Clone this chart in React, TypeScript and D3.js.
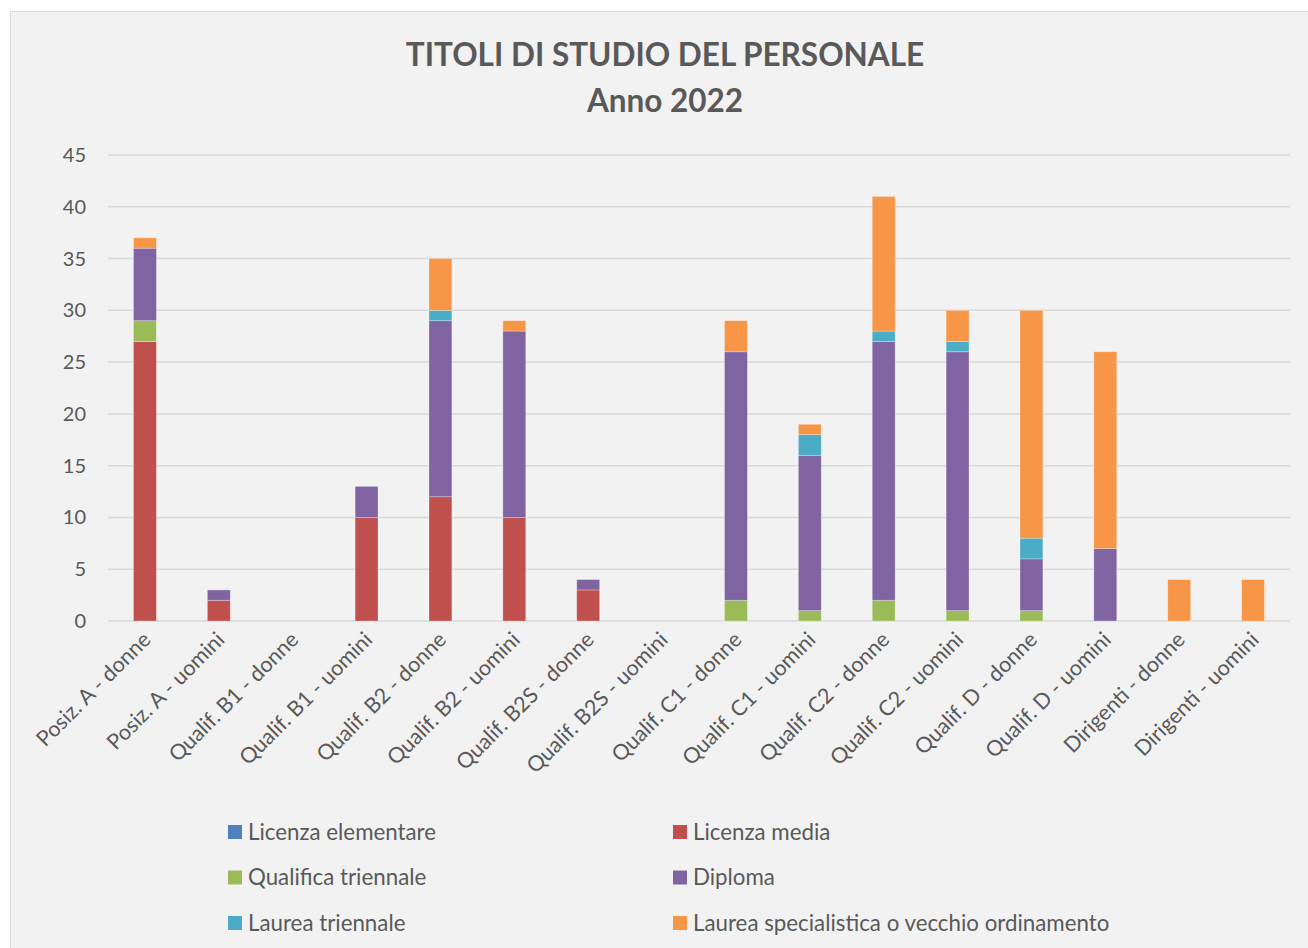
import React, { useEffect, useRef } from 'react';
import * as d3 from 'd3';

const categories = [
  'Posiz. A - donne', 'Posiz. A - uomini', 'Qualif. B1 - donne', 'Qualif. B1 - uomini',
  'Qualif. B2 - donne', 'Qualif. B2 - uomini', 'Qualif. B2S - donne', 'Qualif. B2S - uomini',
  'Qualif. C1 - donne', 'Qualif. C1 - uomini', 'Qualif. C2 - donne', 'Qualif. C2 - uomini',
  'Qualif. D - donne', 'Qualif. D - uomini', 'Dirigenti - donne', 'Dirigenti - uomini',
];

const seriesNames = [
  'Licenza elementare', 'Licenza media', 'Qualifica triennale',
  'Diploma', 'Laurea triennale', 'Laurea specialistica o vecchio ordinamento',
];

const licenzaElementare = [0, 0, 0, 0, 0, 0, 0, 0, 0, 0, 0, 0, 0, 0, 0, 0];
const licenzaMedia = [27, 2, 0, 10, 12, 10, 3, 0, 0, 0, 0, 0, 0, 0, 0, 0];
const qualificaTriennale = [2, 0, 0, 0, 0, 0, 0, 0, 2, 1, 2, 1, 1, 0, 0, 0];
const diploma = [7, 1, 0, 3, 17, 18, 1, 0, 24, 15, 25, 25, 5, 7, 0, 0];
const laureaTriennale = [0, 0, 0, 0, 1, 0, 0, 0, 0, 2, 1, 1, 2, 0, 0, 0];
const laureaSpecialistica = [1, 0, 0, 0, 5, 1, 0, 0, 3, 1, 13, 3, 22, 19, 4, 4];

const colors = ['#4f81bd', '#c0504d', '#9bbb59', '#8064a2', '#4bacc6', '#f79646'];
const yTicks = [0, 5, 10, 15, 20, 25, 30, 35, 40, 45];

const W = 1308;
const H = 948;
const FONT = 'Lato, "Open Sans", sans-serif';
const TEXT = '#595959';

export default function App() {
  const ref = useRef<SVGSVGElement>(null);

  useEffect(() => {
    document.body.style.margin = '0';
    document.body.style.overflow = 'hidden';

    const svg = d3.select(ref.current);
    svg.selectAll('*').remove();

    const values = [licenzaElementare, licenzaMedia, qualificaTriennale, diploma, laureaTriennale, laureaSpecialistica];
    const table = categories.map((c, i) => {
      const row: any = { cat: c };
      seriesNames.forEach((s, j) => { row[s] = values[j][i]; });
      return row;
    });
    const stacked = d3.stack().keys(seriesNames)(table);

    const x = d3.scaleBand().domain(categories).range([108, 1290]).paddingInner(0.69).paddingOuter(0.345);
    const y = d3.scaleLinear().domain([0, 45]).range([621, 155]);

    // chart area
    svg.append('rect')
      .attr('x', 10.5).attr('y', 11.5).attr('width', 1320).attr('height', 960)
      .attr('fill', '#f2f2f2').attr('stroke', '#d9d9d9').attr('stroke-width', 1);

    // title
    const title = svg.append('text')
      .attr('text-anchor', 'middle').attr('fill', TEXT)
      .attr('font-family', FONT).attr('font-weight', 'bold').attr('font-size', 31.5);
    title.append('tspan').attr('x', 665).attr('y', 66).text('TITOLI DI STUDIO DEL PERSONALE');
    title.append('tspan').attr('x', 665).attr('y', 112).text('Anno 2022');

    // gridlines
    svg.append('g').selectAll('line').data(yTicks).join('line')
      .attr('x1', 108).attr('x2', 1290)
      .attr('y1', d => y(d)).attr('y2', d => y(d))
      .attr('stroke', '#d9d9d9').attr('stroke-width', 1.5);

    // y labels
    svg.append('g').selectAll('text').data(yTicks).join('text')
      .attr('x', 86).attr('y', d => y(d)).attr('dy', '0.35em')
      .attr('text-anchor', 'end').attr('fill', TEXT)
      .attr('font-family', FONT).attr('font-size', 20)
      .text(d => d);

    // bars
    svg.append('g').selectAll('g').data(stacked).join('g')
      .attr('fill', (d, i) => colors[i])
      .selectAll('rect').data(d => d.filter(p => p[1] - p[0] > 0)).join('rect')
      .attr('x', (p: any) => x(p.data.cat) as number)
      .attr('width', x.bandwidth())
      .attr('y', p => y(p[1]))
      .attr('height', p => y(p[0]) - y(p[1]))
      .attr('stroke', 'rgba(255,255,255,0.35)').attr('stroke-width', 0.8);

    // x labels
    svg.append('g').selectAll('text').data(categories).join('text')
      .attr('transform', d => `translate(${(x(d) as number) + x.bandwidth() / 2 + 7},${641}) rotate(-45)`)
      .attr('text-anchor', 'end').attr('fill', TEXT)
      .attr('font-family', FONT).attr('font-size', 21.5)
      .text(d => d);

    // legend
    const leg = svg.append('g').selectAll('g').data(seriesNames).join('g')
      .attr('transform', (d, i) => `translate(${i % 2 === 0 ? 228 : 673},${832 + Math.floor(i / 2) * 45.5})`);
    leg.append('rect').attr('x', 0).attr('y', -7).attr('width', 14).attr('height', 14)
      .attr('fill', (d, i) => colors[i]);
    leg.append('text').attr('x', 20).attr('y', 0).attr('dy', '0.35em')
      .attr('fill', TEXT).attr('font-family', FONT).attr('font-size', 22.3)
      .text(d => d);
  }, []);

  return <svg ref={ref} width={W} height={H} style={{ display: 'block' }} />;
}
